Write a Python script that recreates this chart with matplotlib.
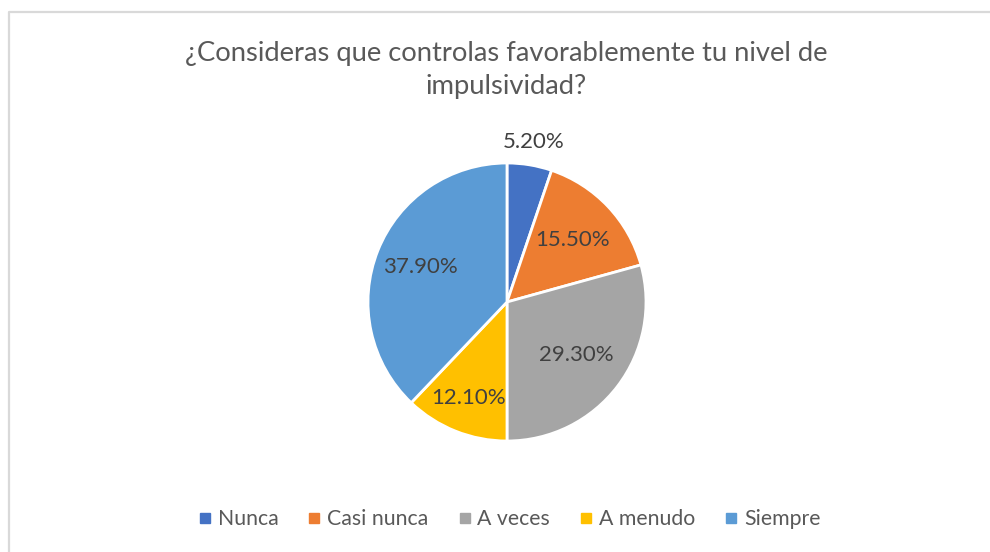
import matplotlib
matplotlib.use("Agg")
import matplotlib.pyplot as plt
import numpy as np
from matplotlib.lines import Line2D

plt.rcParams['font.family'] = ['Lato', 'DejaVu Sans']

categories = ['Nunca', 'Casi nunca', 'A veces', 'A menudo', 'Siempre']
values = [5.2, 15.5, 29.3, 12.1, 37.9]
colors = ['#4472C4', '#ED7D31', '#A5A5A5', '#FFC000', '#5B9BD5']
label_dist = [1.17, 0.65, 0.63, 0.745, 0.67]
title = '¿Consideras que controlas favorablemente tu nivel de\nimpulsividad?'

W, H = 990, 552
fig = plt.figure(figsize=(W / 100, H / 100), dpi=100)

# pie axes: center (507, 302) px, radius 139 px, limits +/-1.25
cx, cy, r = 507, 302, 139
half = r * 1.25
ax = fig.add_axes([(cx - half) / W, (H - cy - half) / H, 2 * half / W, 2 * half / H])
wedges, _ = ax.pie(values, colors=colors, startangle=90, counterclock=False,
                   wedgeprops=dict(edgecolor='white', linewidth=2))
ax.set_xlim(-1.25, 1.25)
ax.set_ylim(-1.25, 1.25)
ax.set_aspect('equal')
ax.axis('off')

for w, v, d in zip(wedges, values, label_dist):
    ang = np.deg2rad((w.theta1 + w.theta2) / 2)
    ax.text(d * np.cos(ang), d * np.sin(ang), f'{v:.2f}%', ha='center', va='center',
            fontsize=16, color='#404040')

fig.text(506 / W, 1 - 70 / H, title, ha='center', va='center', fontsize=19.7,
         color='#595959', linespacing=1.42)

handles = [Line2D([], [], linestyle='none', marker='s', markersize=6.5,
                  markerfacecolor=c, markeredgecolor=c) for c in colors]
fig.legend(handles, categories, loc='center', bbox_to_anchor=(510 / W, 1 - 519 / H),
           ncol=5, frameon=False, fontsize=15.3, labelcolor='#595959',
           handlelength=0.5, handletextpad=0.35, columnspacing=1.45)

# chart frame (left and top edges visible)
fig.add_artist(Line2D([9 / W, 9 / W, 1], [0, 1 - 12 / H, 1 - 12 / H],
                      transform=fig.transFigure, color='#d9d9d9', linewidth=1.6))

fig.savefig('out.png', dpi=100)
